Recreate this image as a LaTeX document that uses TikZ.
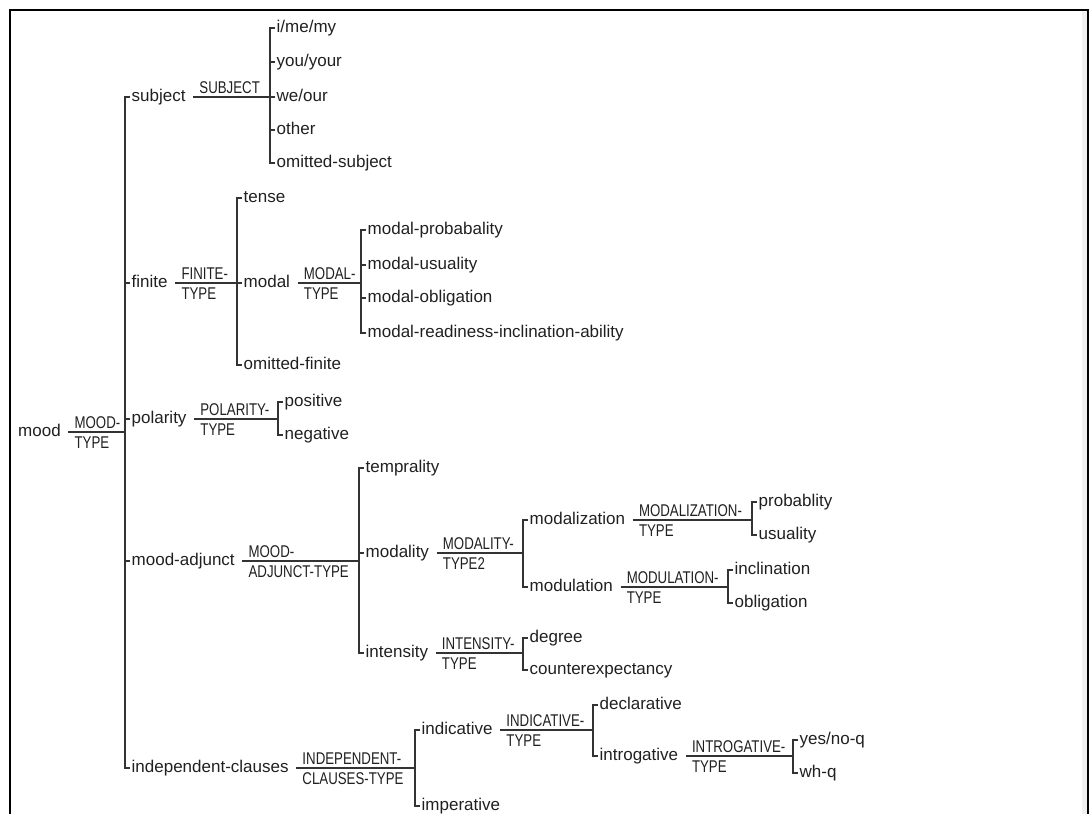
\documentclass[tikz,border=0pt]{standalone}
\usepackage{fontspec}
\setmainfont{Liberation Sans}
\newfontfamily\narrowfont{Liberation Sans}[FakeStretch=0.78]
\usetikzlibrary{calc}
\definecolor{ink}{HTML}{202020}
\definecolor{wire}{HTML}{333333}
\tikzset{
  term/.style={anchor=west, inner xsep=1.5pt, inner ysep=0pt, text height=12pt, text depth=4pt,
    font=\fontsize{17}{19}\selectfont, text=ink},
  sysname/.style={anchor=base west, inner sep=0pt, font=\narrowfont\fontsize{17}{19}\selectfont, text=ink},
  wire/.style={draw=wire, line width=1.7pt, line join=miter},
  frame/.style={draw=black, line width=1.6pt},
}
\begin{document}
\begin{tikzpicture}[x=1pt, y=-1pt]
\useasboundingbox (0,0) rectangle (1092,814);
% frame
\fill[gray!12] (1082,11) rectangle (1087,814);
\draw[frame] (10,814) -- (10,10) -- (1088,10) -- (1088,814);

% ---------- nodes ----------
\node[term] (mood) at (16.5,432) {mood};

\node[term] (subject)  at (130,97)  {subject};
\node[term] (finite)   at (130,283) {finite};
\node[term] (polarity) at (130,419) {polarity};
\node[term] (adjunct)  at (130,561) {mood-adjunct};
\node[term] (indep)    at (130,768) {independent-clauses};

\node[term] (s1) at (275,28)  {i/me/my};
\node[term] (s2) at (275,62)  {you/your};
\node[term] (s3) at (275,97)  {we/our};
\node[term] (s4) at (275,130) {other};
\node[term] (s5) at (275,163) {omitted-subject};

\node[term] (tense) at (242,198) {tense};
\node[term] (modal) at (242,283) {modal};
\node[term] (omfin) at (242,365) {omitted-finite};

\node[term] (mp) at (366,230) {modal-probabality};
\node[term] (mu) at (366,265) {modal-usuality};
\node[term] (mo) at (366,298) {modal-obligation};
\node[term] (mr) at (366,333) {modal-readiness-inclination-ability};

\node[term] (pos) at (283,402) {positive};
\node[term] (neg) at (283,435) {negative};

\node[term] (temp)      at (364,468) {temprality};
\node[term] (modality)  at (364,553) {modality};
\node[term] (intensity) at (364,653) {intensity};

\node[term] (modz) at (528,520) {modalization};
\node[term] (modu) at (528,587) {modulation};

\node[term] (prob) at (757,502) {probablity};
\node[term] (usu)  at (757,535) {usuality};

\node[term] (incl) at (733,570) {inclination};
\node[term] (obl)  at (733,603) {obligation};

\node[term] (deg) at (528,638) {degree};
\node[term] (cex) at (528,670) {counterexpectancy};

\node[term] (indic) at (420,730) {indicative};
\node[term] (imper) at (420,806) {imperative};

\node[term] (decl)  at (598,705) {declarative};
\node[term] (intro) at (598,756) {introgative};

\node[term] (yesno) at (798,740) {yes/no-q};
\node[term] (whq)   at (798,773) {wh-q};

% ---------- bracket coordinates ----------
\coordinate (bMood)  at (125,432);
\coordinate (bSubj)  at (270,97);
\coordinate (bFin)   at (237,283);
\coordinate (bModal) at (361,283);
\coordinate (bPol)   at (278,419);
\coordinate (bAdj)   at (359,561);
\coordinate (bMty)   at (523,553);
\coordinate (bModz)  at (752,520);
\coordinate (bModu)  at (728,587);
\coordinate (bInt)   at (523,653);
\coordinate (bInd)   at (415,768);
\coordinate (bIndic) at (593,730);
\coordinate (bIntro) at (793,756);

% ---------- parent lines with system names ----------
\draw[wire] ($(mood.east)+(6,0)$) -- (bMood);
\node[sysname] (lMoodA) at ($(mood.east)+(12,-4)$) {MOOD-};
\node[sysname] (lMoodB) at ($(mood.east)+(12,16)$) {TYPE};

\draw[wire] ($(subject.east)+(6,0)$) -- (bSubj);
\node[sysname] (lSubj) at ($(subject.east)+(12,-4)$) {SUBJECT};

\draw[wire] ($(finite.east)+(6,0)$) -- (bFin);
\node[sysname] (lFinA) at ($(finite.east)+(12,-4)$) {FINITE-};
\node[sysname] (lFinB) at ($(finite.east)+(12,16)$) {TYPE};

\draw[wire] ($(modal.east)+(6,0)$) -- (bModal);
\node[sysname] (lModA) at ($(modal.east)+(12,-4)$) {MODAL-};
\node[sysname] (lModB) at ($(modal.east)+(12,16)$) {TYPE};

\draw[wire] ($(polarity.east)+(6,0)$) -- (bPol);
\node[sysname] (lPolA) at ($(polarity.east)+(12,-4)$) {POLARITY-};
\node[sysname] (lPolB) at ($(polarity.east)+(12,16)$) {TYPE};

\draw[wire] ($(adjunct.east)+(6,0)$) -- (bAdj);
\node[sysname] (lAdjA) at ($(adjunct.east)+(12,-4)$) {MOOD-};
\node[sysname] (lAdjB) at ($(adjunct.east)+(12,16)$) {ADJUNCT-TYPE};

\draw[wire] ($(modality.east)+(6,0)$) -- (bMty);
\node[sysname] (lMtyA) at ($(modality.east)+(12,-4)$) {MODALITY-};
\node[sysname] (lMtyB) at ($(modality.east)+(12,16)$) {TYPE2};

\draw[wire] ($(modz.east)+(6,0)$) -- (bModz);
\node[sysname] (lModzA) at ($(modz.east)+(12,-4)$) {MODALIZATION-};
\node[sysname] (lModzB) at ($(modz.east)+(12,16)$) {TYPE};

\draw[wire] ($(modu.east)+(6,0)$) -- (bModu);
\node[sysname] (lModuA) at ($(modu.east)+(12,-4)$) {MODULATION-};
\node[sysname] (lModuB) at ($(modu.east)+(12,16)$) {TYPE};

\draw[wire] ($(intensity.east)+(6,0)$) -- (bInt);
\node[sysname] (lIntA) at ($(intensity.east)+(12,-4)$) {INTENSITY-};
\node[sysname] (lIntB) at ($(intensity.east)+(12,16)$) {TYPE};

\draw[wire] ($(indep.east)+(6,0)$) -- (bInd);
\node[sysname] (lIndA) at ($(indep.east)+(12,-4)$) {INDEPENDENT-};
\node[sysname] (lIndB) at ($(indep.east)+(12,16)$) {CLAUSES-TYPE};

\draw[wire] ($(indic.east)+(6,0)$) -- (bIndic);
\node[sysname] (lIndicA) at ($(indic.east)+(12,-4)$) {INDICATIVE-};
\node[sysname] (lIndicB) at ($(indic.east)+(12,16)$) {TYPE};

\draw[wire] ($(intro.east)+(6,0)$) -- (bIntro);
\node[sysname] (lIntroA) at ($(intro.east)+(12,-4)$) {INTROGATIVE-};
\node[sysname] (lIntroB) at ($(intro.east)+(12,16)$) {TYPE};

% ---------- brackets ----------
\foreach \b/\f/\l/\mids in {
  bMood/subject/indep/{finite,polarity,adjunct},
  bSubj/s1/s5/{s2,s3,s4},
  bFin/tense/omfin/{modal},
  bModal/mp/mr/{mu,mo},
  bPol/pos/neg/{},
  bAdj/temp/intensity/{modality},
  bMty/modz/modu/{},
  bModz/prob/usu/{},
  bModu/incl/obl/{},
  bInt/deg/cex/{},
  bInd/indic/imper/{},
  bIndic/decl/intro/{},
  bIntro/yesno/whq/{}%
}{
  \draw[wire] (\f.west) -- (\b |- \f.west) -- (\b |- \l.west) -- (\l.west);
  \foreach \m in \mids {
    \draw[wire] (\b |- \m.west) -- (\m.west);
  }
}
\end{tikzpicture}
\end{document}
